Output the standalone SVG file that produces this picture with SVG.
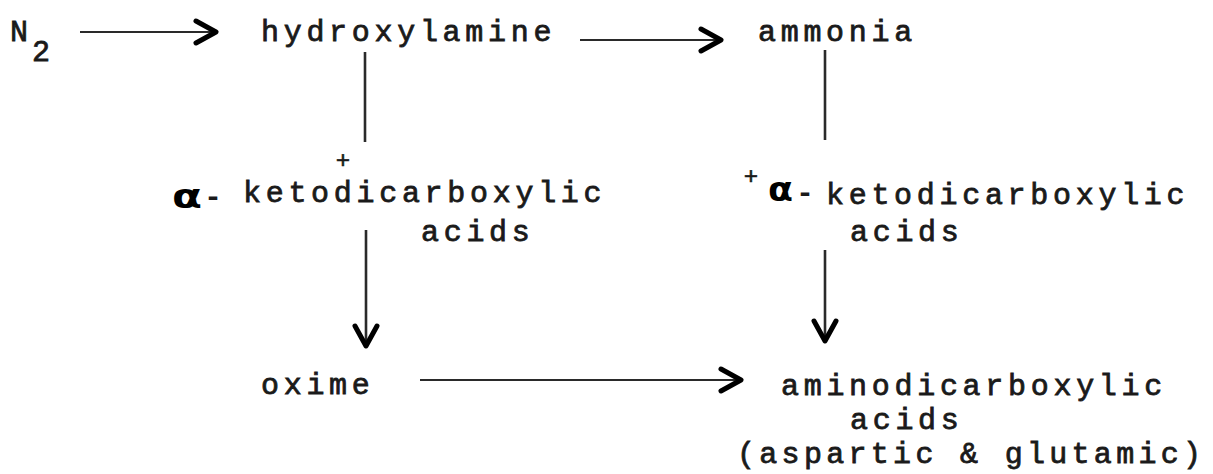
<svg xmlns="http://www.w3.org/2000/svg" width="1213" height="474" viewBox="0 0 1213 474">
  <style>
    .tw { font-family: "Liberation Mono", "DejaVu Sans Mono", monospace; font-size: 30px; letter-spacing: 4.7px; fill: #1a1a1a; stroke: #1a1a1a; stroke-width: 0.8px; }
    .tight { letter-spacing: 4.3px; }
    .sub { font-family: "Liberation Mono", "DejaVu Sans Mono", monospace; font-size: 30px; fill: #1a1a1a; stroke: #1a1a1a; stroke-width: 0.8px; }
    .plus { font-family: "Liberation Mono", "DejaVu Sans Mono", monospace; font-size: 24px; fill: #1a1a1a; stroke: #1a1a1a; stroke-width: 0.6px; text-anchor: middle; }
    .alpha { font-family: "DejaVu Sans", "Liberation Sans", sans-serif; font-weight: bold; font-size: 34px; fill: #000; }
    .dash { font-family: "Liberation Mono", monospace; font-size: 30px; font-weight: bold; fill: #1a1a1a; }
    .edge { stroke: #2a2a2a; fill: none; }
    .h { stroke-width: 2; }
    .v { stroke-width: 2.6; }
  </style>
  <defs>
    <marker id="chevron" markerUnits="userSpaceOnUse" viewBox="-26 -16 32 32" markerWidth="32" markerHeight="32" refX="0" refY="0" orient="auto">
      <path d="M-20,-11 L0,0 L-20,11" fill="none" stroke="#000" stroke-width="5" stroke-linecap="round" stroke-linejoin="round"/>
    </marker>
  </defs>

  <!-- connectors -->
  <g id="connectors">
    <line class="edge h" x1="80" y1="32" x2="216" y2="32" marker-end="url(#chevron)"/>
    <line class="edge h" x1="580" y1="40" x2="721" y2="40" marker-end="url(#chevron)"/>
    <line class="edge v" x1="365" y1="52" x2="365" y2="142"/>
    <line class="edge v" x1="366" y1="230" x2="366" y2="346" marker-end="url(#chevron)"/>
    <line class="edge v" x1="825" y1="50" x2="825" y2="140"/>
    <line class="edge v" x1="825" y1="250" x2="825" y2="341" marker-end="url(#chevron)"/>
    <line class="edge h" x1="420" y1="380" x2="741" y2="380" marker-end="url(#chevron)"/>
  </g>

  <!-- nitrogen -->
  <g id="n2">
    <text class="sub" x="10" y="41">N</text>
    <text class="sub" x="32" y="61">2</text>
  </g>

  <g id="hydroxylamine">
    <text class="tw" x="261" y="41">hydroxylamine</text>
  </g>

  <g id="ammonia">
    <text class="tw" x="758" y="41">ammonia</text>
  </g>

  <g id="keto-left">
    <text class="plus" x="343" y="168">+</text>
    <text class="alpha" x="172" y="208" textLength="30" lengthAdjust="spacingAndGlyphs">α</text>
    <text class="dash" x="204" y="206">-</text>
    <text class="tw" x="243" y="202">ketodicarboxylic</text>
    <text class="tw" x="421" y="241">acids</text>
  </g>

  <g id="keto-right">
    <text class="plus" x="751" y="184">+</text>
    <text class="alpha" x="768" y="201" textLength="25" lengthAdjust="spacingAndGlyphs">α</text>
    <text class="dash" x="796" y="202">-</text>
    <text class="tw" x="826" y="204">ketodicarboxylic</text>
    <text class="tw" x="850" y="241">acids</text>
  </g>

  <g id="oxime">
    <text class="tw" x="261" y="394">oxime</text>
  </g>

  <g id="amino-acids">
    <text class="tw" x="781" y="395">aminodicarboxylic</text>
    <text class="tw" x="850" y="429">acids</text>
    <text class="tw tight" x="737" y="463">(aspartic &amp; glutamic)</text>
  </g>
</svg>
